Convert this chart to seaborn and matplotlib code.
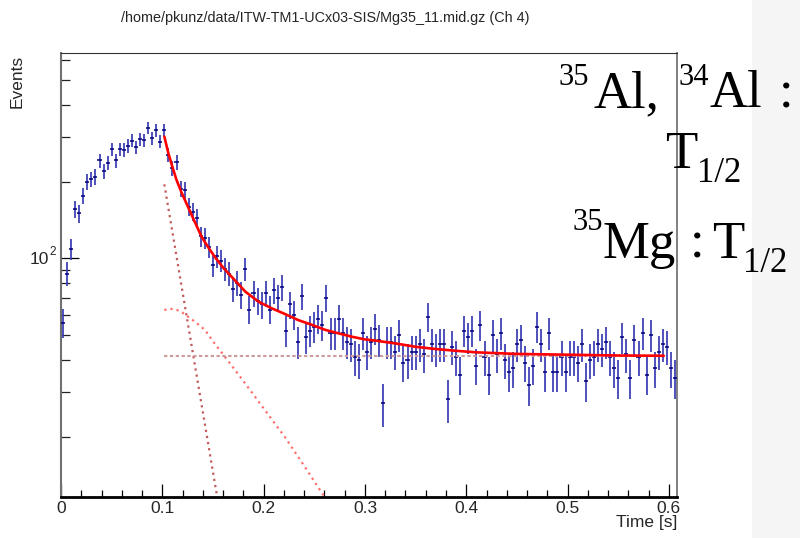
import numpy as np
import pandas as pd
import matplotlib
matplotlib.use("Agg")
import matplotlib.pyplot as plt
import seaborn as sns
from matplotlib.ticker import FixedLocator, NullFormatter, LogLocator, MultipleLocator
from matplotlib.patches import Rectangle

# ---------------- data ----------------
title_text = "/home/pkunz/data/ITW-TM1-UCx03-SIS/Mg35_11.mid.gz (Ch 4)"
x_label = "Time [s]"
y_label = "Events"
x_tick_values = [0.0, 0.1, 0.2, 0.3, 0.4, 0.5, 0.6]
x_tick_labels = ["0", "0.1", "0.2", "0.3", "0.4", "0.5", "0.6"]

bin_width = 0.004
counts = [
    56, 87, 109, 156, 150, 176, 200, 204, 209, 242, 219, 237, 268, 242, 268, 266, 276, 289, 273, 293,
    291, 324, 296, 317, 287, 319, 254, 225, 238, 187, 185, 159, 152, 144, 122, 120, 111, 94,
    102, 98, 91, 87, 76, 80, 72, 91, 63, 73, 68, 66, 73, 63, 75, 70, 77, 52, 66, 60,
    47, 71, 49, 52, 54, 58, 55, 70, 51, 51, 58, 51, 47, 46, 41, 40, 51,
    43, 47, 53, 48, 27, 47, 47, 43, 50, 39, 40, 43, 43, 46, 42, 59, 46, 44, 46, 46,
    28, 45, 41, 35, 52, 49, 52, 38, 55, 41, 35, 50, 42, 51, 40, 36, 37,
    46, 48, 39, 32, 38, 54, 46, 36, 51, 36, 36, 41, 36, 41, 41, 39, 46, 33, 40, 41,
    46, 44, 47, 41, 37, 34, 49, 42, 34, 48, 41, 51, 35, 50, 37, 43, 46, 45, 37, 34,
]
bin_centers = [0.002 + bin_width * k for k in range(len(counts))]

# total fit curve
fit_t = [0.102, 0.106, 0.110, 0.114, 0.119, 0.126, 0.132, 0.139, 0.145, 0.152, 0.160, 0.168,
         0.182, 0.195, 0.208, 0.221, 0.234, 0.248, 0.261, 0.274, 0.287, 0.300, 0.310, 0.330,
         0.350, 0.370, 0.390, 0.410, 0.430, 0.450, 0.500, 0.550, 0.595]
fit_v = [300, 258, 228, 203, 181, 157, 139, 121, 111, 101, 92, 85,
         74, 67.6, 63.7, 60.5, 57.3, 54.8, 52.4, 50.8, 49.3, 48.1, 47.6, 46.4,
         45.0, 44.1, 43.4, 42.8, 42.5, 42.2, 41.9, 41.6, 41.5]
# fast component (dark dotted)
fast_t = [0.102, 0.157]
fast_v = [195, 9.95]
# daughter component (light dotted)
daughter_t = [0.102, 0.1076, 0.1174, 0.1323, 0.1421, 0.1515, 0.1619, 0.1816, 0.2013, 0.2211, 0.2408, 0.2620]
daughter_v = [62.7, 63.5, 62.3, 56.4, 52.4, 46.4, 41.1, 32.4, 25.4, 19.9, 15.2, 11.3]
# constant background (dashed)
bg_t = [0.102, 0.595]
bg_v = [41.5, 41.5]

# ---------------- figure ----------------
sns.set_style("white")
plt.rcParams["font.family"] = ["Liberation Sans", "DejaVu Sans"]

W, H = 800, 538
fig = plt.figure(figsize=(W / 100, H / 100), dpi=100)
fig.patch.set_facecolor("white")

# right grey panel
fig.patches.append(Rectangle((752 / W, 0), (W - 752) / W, 1, transform=fig.transFigure,
                             facecolor="#f5f5f5", edgecolor="none", zorder=0))

ax_l, ax_r, ax_t, ax_b = 61, 677, 53, 497
ax = fig.add_axes([ax_l / W, 1 - ax_b / H, (ax_r - ax_l) / W, (ax_b - ax_t) / H])
ax.set_facecolor("white")

hist_df = pd.DataFrame({"t": bin_centers, "n": counts})
hist_df["err"] = np.sqrt(hist_df["n"])

ax.set_yscale("log")
# error bars
ax.errorbar(hist_df["t"], hist_df["n"], yerr=hist_df["err"], fmt="none",
            ecolor="#3a3ab4", elinewidth=1.25, capsize=0, zorder=3)
ax.errorbar(hist_df["t"], hist_df["n"], xerr=bin_width / 2, fmt="none",
            ecolor="#00007a", elinewidth=1.1, capsize=0, zorder=4)

# fit components
sns.lineplot(x=fast_t, y=fast_v, ax=ax, color="#c25a5a", lw=1.6,
             linestyle=(0, (1, 1.8)), sort=False, estimator=None, zorder=5)
sns.lineplot(x=daughter_t, y=daughter_v, ax=ax, color="#ff6e6e", lw=1.6,
             linestyle=(0, (1, 1.8)), sort=False, estimator=None, zorder=5)
sns.lineplot(x=bg_t, y=bg_v, ax=ax, color="#cc9c9c", lw=1.5,
             linestyle=(0, (1.6, 1.2)), sort=False, estimator=None, zorder=5)
sns.lineplot(x=fit_t, y=fit_v, ax=ax, color="#ff0000", lw=1.9,
             sort=False, estimator=None, zorder=6)

ax.set_xlim(0, 0.608)
ax.set_ylim(11.6, 638)
ax.set_xlabel("")
ax.set_ylabel("")

# ticks
ax.xaxis.set_major_locator(FixedLocator(x_tick_values))
ax.set_xticklabels(x_tick_labels)
ax.xaxis.set_minor_locator(MultipleLocator(0.02))
ax.yaxis.set_major_locator(FixedLocator([100]))
ax.yaxis.set_minor_locator(LogLocator(base=10, subs=np.arange(2, 10)))
ax.yaxis.set_major_formatter(NullFormatter())
ax.yaxis.set_minor_formatter(NullFormatter())
ax.tick_params(axis="x", which="major", direction="in", length=9.5, width=0.9,
               color="black", labelsize=12.5, pad=3, bottom=True, top=False)
ax.tick_params(axis="x", which="minor", direction="in", length=5, width=0.9,
               color="black", bottom=True, top=False)
ax.tick_params(axis="y", which="major", direction="in", length=13, width=0.9,
               color="black", left=True, right=False)
ax.tick_params(axis="y", which="minor", direction="in", length=6.5, width=0.9,
               color="#222222", left=True, right=False)

for s in ["left", "right", "top", "bottom"]:
    ax.spines[s].set_visible(True)
ax.spines["left"].set_color("#707070")
ax.spines["left"].set_linewidth(1.5)
ax.spines["bottom"].set_color("black")
ax.spines["bottom"].set_linewidth(2.0)
ax.spines["top"].set_color("#333333")
ax.spines["top"].set_linewidth(0.8)
ax.spines["right"].set_color("#808080")
ax.spines["right"].set_linewidth(1.4)

# y tick label 10^2
ax.text(-12 / (ax_r - ax_l), 100, "10", transform=ax.get_yaxis_transform(),
        ha="right", va="center_baseline", fontsize=12.5)
ax.text(-11.5 / (ax_r - ax_l), 100, "2", transform=ax.get_yaxis_transform(),
        ha="left", va="bottom", fontsize=8.5)

# titles
fig.text(325 / W, 1 - 18 / H, title_text, ha="center", va="center", fontsize=10.4)
fig.text(17 / W, 1 - 55 / H, y_label, rotation=90, ha="center", va="top", fontsize=12.5)
fig.text(677 / W, 1 - 522 / H, x_label, ha="right", va="center", fontsize=12.5)

# big serif annotation
serif = ["Liberation Serif", "DejaVu Serif"]
big = 38
small = 22
sub = 25
pieces = [
    ("35", 558, 85, small), ("Al,", 594, 107, big), ("34", 678, 85, small), ("Al", 709, 107, big),
    (":", 779, 107, big),
    ("T", 665, 168, big), ("1/2", 697, 182, sub),
    ("35", 573, 230, small), ("Mg", 602, 258, big), (":", 690, 258, big),
    ("T", 712, 258, big), ("1/2", 743, 272, sub),
]
for txt, px, py, fs in pieces:
    fig.text(px / W, 1 - py / H, txt, ha="left", va="baseline", fontsize=fs,
             family=serif, color="black", zorder=10)

fig.savefig("out.png", dpi=100)
